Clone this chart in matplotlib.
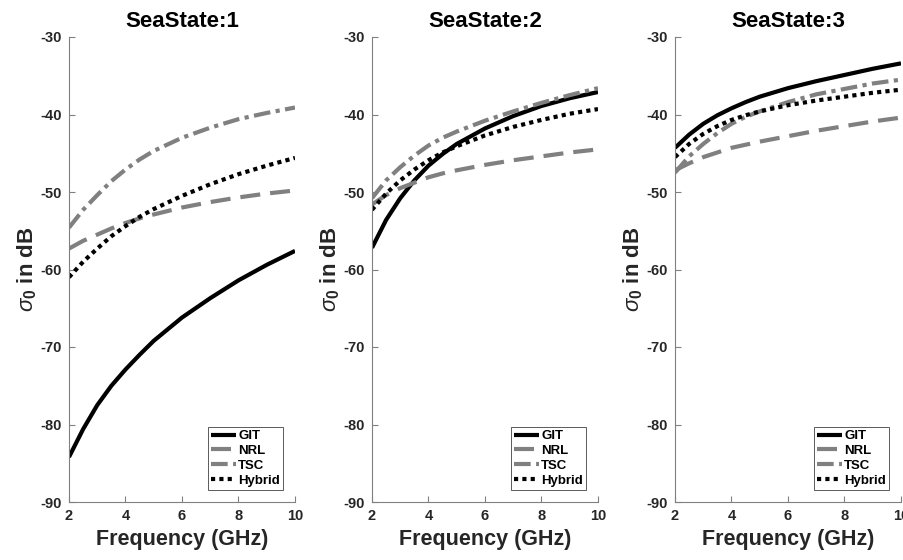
import numpy as np
import matplotlib
matplotlib.use('Agg')
from matplotlib import pyplot as plt

plt.rcParams['font.family'] = ['Liberation Sans', 'DejaVu Sans']
plt.rcParams['mathtext.fontset'] = 'custom'
plt.rcParams['mathtext.rm'] = 'Liberation Sans'
plt.rcParams['mathtext.it'] = 'Liberation Sans:italic'
plt.rcParams['mathtext.bf'] = 'Liberation Sans:bold'
plt.rcParams['axes.unicode_minus'] = False

freq = [2, 2.5, 3, 3.5, 4, 4.5, 5, 6, 7, 8, 9, 10]
titles = ['SeaState:1', 'SeaState:2', 'SeaState:3']

# sigma0 values in dB, one list per sea state
git = [
    [-84.2, -80.6, -77.5, -75.0, -72.9, -71.0, -69.2, -66.2, -63.7, -61.4, -59.4, -57.6],
    [-57.2, -53.6, -50.8, -48.5, -46.6, -45.1, -43.8, -41.8, -40.2, -38.9, -37.9, -37.1],
    [-44.3, -42.6, -41.2, -40.1, -39.2, -38.4, -37.7, -36.6, -35.7, -34.9, -34.1, -33.4],
]
nrl = [
    [-57.3, -56.3, -55.5, -54.7, -54.0, -53.4, -52.9, -52.0, -51.3, -50.7, -50.2, -49.8],
    [-51.6, -50.4, -49.5, -48.8, -48.1, -47.6, -47.2, -46.5, -45.9, -45.4, -44.9, -44.5],
    [-47.2, -46.3, -45.5, -44.9, -44.3, -43.9, -43.5, -42.8, -42.1, -41.5, -40.9, -40.4],
]
tsc = [
    [-54.6, -52.3, -50.4, -48.6, -47.1, -45.8, -44.7, -43.0, -41.7, -40.6, -39.8, -39.1],
    [-50.8, -48.5, -46.8, -45.3, -44.0, -43.0, -42.2, -40.8, -39.6, -38.5, -37.5, -36.6],
    [-47.5, -45.4, -43.8, -42.4, -41.2, -40.3, -39.6, -38.4, -37.4, -36.7, -36.0, -35.5],
]
hybrid = [
    [-61.0, -59.0, -57.3, -55.7, -54.4, -53.2, -52.2, -50.5, -49.0, -47.7, -46.6, -45.6],
    [-52.3, -50.2, -48.5, -47.1, -45.9, -44.9, -44.1, -42.7, -41.6, -40.7, -39.9, -39.3],
    [-45.5, -43.8, -42.5, -41.5, -40.7, -40.1, -39.6, -38.8, -38.2, -37.7, -37.2, -36.8],
]

gray = '#808080'
fig = plt.figure(figsize=(9.04, 5.6), dpi=100)
lefts = [69/904, 372/904, 675/904]
for i in range(3):
    ax = fig.add_axes([lefts[i], 58/560, 226/904, 465/560])
    ax.plot(freq, git[i], color='black', lw=3, label='GIT', solid_capstyle='butt')
    ax.plot(freq, nrl[i], color=gray, lw=3, dashes=(4.8, 2.4), label='NRL')
    ax.plot(freq, tsc[i], color=gray, lw=3, dashes=(4, 1.3, 1, 1.3), label='TSC')
    ax.plot(freq, hybrid[i], color='black', lw=3, dashes=(1, 1), label='Hybrid')
    ax.set_xlim(2, 10)
    ax.set_ylim(-90, -30)
    ax.set_xticks([2, 4, 6, 8, 10])
    ax.set_yticks(np.arange(-90, -29, 10))
    for s in ['top', 'right']:
        ax.spines[s].set_visible(False)
    for s in ['left', 'bottom']:
        ax.spines[s].set_color(gray)
        ax.spines[s].set_linewidth(0.8)
    ax.tick_params(direction='in', length=4, color=gray, labelsize=10.5,
                   labelcolor='#262626', pad=5)
    for lab in ax.get_xticklabels() + ax.get_yticklabels():
        lab.set_fontweight('bold')
    ax.set_title(titles[i], fontsize=16, fontweight='bold', pad=7)
    ax.set_xlabel('Frequency (GHz)', fontsize=15.5, fontweight='bold',
                  color='#262626', labelpad=4)
    ax.set_ylabel(r'$\sigma_\mathbf{0}$ in dB', fontsize=16, fontweight='bold',
                  color='#262626', labelpad=1)
    leg = ax.legend(loc='lower right', handlelength=1.9,
                    handletextpad=0.15, borderpad=0.25, labelspacing=0.2,
                    fancybox=False, framealpha=1, borderaxespad=0.9,
                    prop={'weight': 'bold', 'size': 9.5})
    leg.get_frame().set_edgecolor('#404040')
    leg.get_frame().set_linewidth(0.6)

fig.savefig('out.png', dpi=100)
